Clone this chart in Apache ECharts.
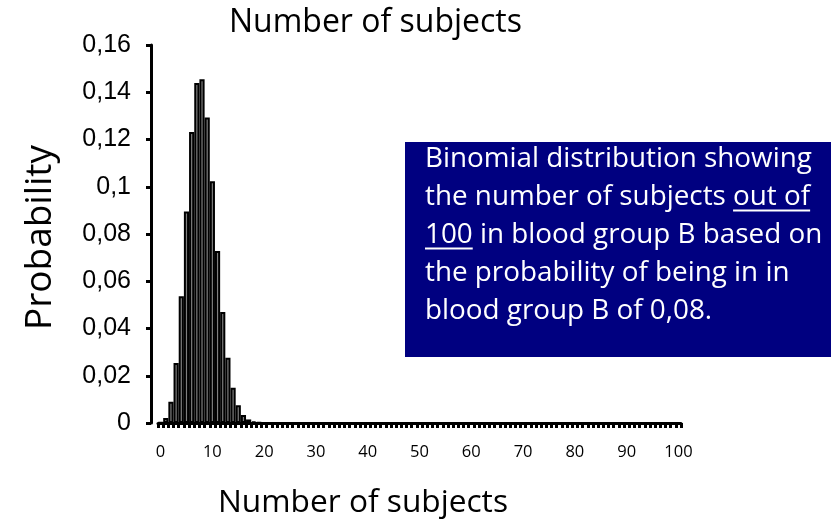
<!DOCTYPE html>
<html>
<head>
<meta charset="utf-8">
<script src="https://cdn.jsdelivr.net/npm/echarts@6/dist/echarts.min.js"></script>
<style>
  html, body { margin: 0; padding: 0; background: #fff; }
  #chart { width: 831px; height: 520px; }
</style>
</head>
<body>
<div id="chart"></div>
<script>
// Number of subjects (0..100) in blood group B
const categories = [];
for (let k = 0; k <= 100; k++) categories.push(String(k));

// Probability for each count
const probabilities = [
  0.0002, 0.0021, 0.0090, 0.0254, 0.0536, 0.0895, 0.1232, 0.1439, 0.1455, 0.1293,
  0.1023, 0.0728, 0.0470, 0.0276, 0.0149, 0.0075, 0.0034, 0.0015, 0.0006, 0.0002,
  0.0001, 0, 0, 0, 0, 0, 0, 0, 0, 0,
  0, 0, 0, 0, 0, 0, 0, 0, 0, 0,
  0, 0, 0, 0, 0, 0, 0, 0, 0, 0,
  0, 0, 0, 0, 0, 0, 0, 0, 0, 0,
  0, 0, 0, 0, 0, 0, 0, 0, 0, 0,
  0, 0, 0, 0, 0, 0, 0, 0, 0, 0,
  0, 0, 0, 0, 0, 0, 0, 0, 0, 0,
  0, 0, 0, 0, 0, 0, 0, 0, 0, 0,
  0
];

const yTicks = [0, 0.02, 0.04, 0.06, 0.08, 0.1, 0.12, 0.14, 0.16];

const titleText = 'Number of subjects';
const xName = 'Number of subjects';
const yName = 'Probability';
const noteLines = [
  'Binomial distribution showing',
  ['the number of subjects ', 'out of'],
  ['100', ' in blood group B based on'],
  'the probability of being in in',
  'blood group B of 0,08.'
];

const sansFamily = '"Open Sans"';
const measureCtx = document.createElement('canvas').getContext('2d');
function textWidth(str, size, family) {
  measureCtx.font = size + 'px ' + (family || sansFamily);
  return measureCtx.measureText(str).width;
}
// font size giving a text the wanted width
function fitSize(str, width, family) {
  return 100 * width / textWidth(str, 100, family);
}

const titleSize = fitSize(titleText, 293);
const xNameSize = fitSize(xName, 290);
const yNameSize = fitSize(yName, 185);
const noteSize = fitSize(noteLines[0], 387);
const MID = 0.3; // distance from baseline to text middle, in em

const graphics = [];
function addText(str, x, y, size, opts) {
  graphics.push(Object.assign({
    type: 'text', x: x, y: y,
    style: {
      text: str, fill: '#000', font: size.toFixed(2) + 'px ' + sansFamily,
      textAlign: 'center', textVerticalAlign: 'middle'
    }
  }, opts || {}));
}
// chart title and axis names
addText(titleText, 375.5, 32 - MID * titleSize, titleSize);
addText(xName, 363, 512 - MID * xNameSize, xNameSize);
addText(yName, 52 - MID * yNameSize, 237.5, yNameSize, { rotation: Math.PI / 2 });

// annotation box
const boxX = 405, boxY = 142, boxW = 426, boxH = 215;
const textX = 425, firstBaseline = 167.5, lineStep = 38;
graphics.push({
  type: 'rect',
  shape: { x: boxX, y: boxY, width: boxW, height: boxH },
  style: { fill: '#000080' }
});
noteLines.forEach((line, i) => {
  const full = Array.isArray(line) ? line.join('') : line;
  const base = firstBaseline + i * lineStep;
  graphics.push({
    type: 'text', x: textX, y: base - MID * noteSize,
    style: {
      text: full, fill: '#fff', font: noteSize.toFixed(2) + 'px ' + sansFamily,
      textAlign: 'left', textVerticalAlign: 'middle'
    }
  });
});
// underlines under "out of" and "100"
(function () {
  const w1 = textWidth(noteLines[1][0], noteSize);
  const w2 = textWidth(noteLines[1][1], noteSize);
  const w3 = textWidth(noteLines[2][0], noteSize);
  const u1 = firstBaseline + lineStep + 4;
  const u2 = firstBaseline + 2 * lineStep + 4;
  graphics.push({ type: 'rect', shape: { x: textX + w1, y: u1, width: w2, height: 2 }, style: { fill: '#fff' } });
  graphics.push({ type: 'rect', shape: { x: textX, y: u2, width: w3, height: 2 }, style: { fill: '#fff' } });
})();

const chart = echarts.init(document.getElementById('chart'), null, { renderer: 'canvas' });
chart.setOption({
  animation: false,
  backgroundColor: '#fff',
  grid: { left: 158, right: 150, top: 45, bottom: 97, containLabel: false, outerBoundsMode: 'none' },
  xAxis: {
    type: 'category',
    data: categories,
    boundaryGap: true,
    axisLine: { lineStyle: { color: '#000', width: 3 } },
    axisTick: { show: true, interval: 0, length: 5, lineStyle: { color: '#000', width: 3 } },
    axisLabel: {
      interval: 9, margin: 21, color: '#000',
      fontFamily: sansFamily, fontSize: 16.5
    }
  },
  yAxis: {
    type: 'value',
    min: 0, max: 0.16, interval: 0.02,
    offset: 7,
    splitLine: { show: false },
    axisLine: { show: true, lineStyle: { color: '#000', width: 3 } },
    axisTick: { show: true, length: 5, lineStyle: { color: '#000', width: 3 } },
    axisLabel: {
      margin: 20, color: '#000',
      fontFamily: '"Liberation Sans", Arial, sans-serif', fontSize: 25,
      formatter: v => {
        const t = yTicks.find(x => Math.abs(x - v) < 1e-9);
        return String(t !== undefined ? t : v).replace('.', ',');
      }
    }
  },
  series: [{
    type: 'bar',
    data: probabilities,
    barCategoryGap: '0%',
    itemStyle: { color: '#808080', borderColor: '#000', borderWidth: 2 }
  }],
  graphic: graphics
});
</script>
</body>
</html>
